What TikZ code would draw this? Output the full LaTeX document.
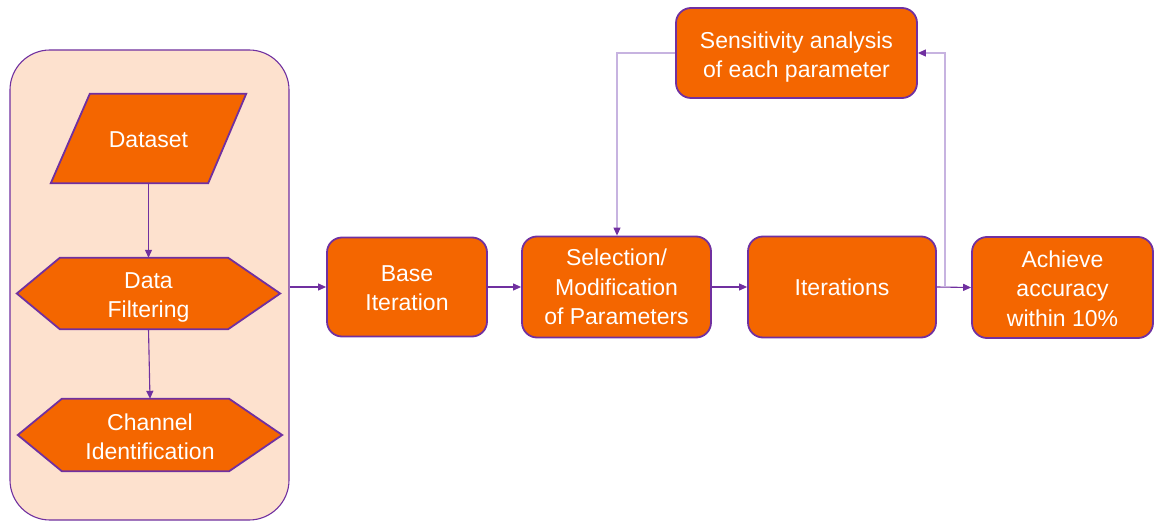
\documentclass[tikz,border=0pt]{standalone}
\usepackage{fontspec}
\setmainfont{Liberation Sans}
\usetikzlibrary{calc,arrows.meta}
\definecolor{orfill}{HTML}{F46600}
\definecolor{purp}{HTML}{7030A0}
\definecolor{lpurp}{HTML}{C7B3E0}
\definecolor{peach}{HTML}{FDE1CE}
\tikzset{
  txt/.style={inner sep=0pt, text=white, align=center, font=\fontsize{23}{29.5}\selectfont},
  rbox/.style={txt, draw=purp, line width=1.8pt, fill=orfill, rounded corners=15pt},
  shp/.style={draw=purp, line width=1.8pt, fill=orfill, line join=miter},
  conn/.style={draw=purp, line width=1.1pt, -{Triangle[length=8pt,width=7pt]}},
  fb/.style={draw=lpurp, line width=1.1pt},
  fbarrow/.style={fb, -{Triangle[length=8pt,width=7pt,color=purp]}},
}
\begin{document}
\begin{tikzpicture}[x=1pt,y=-1pt]
\useasboundingbox (0,0) rectangle (1154,521);
% container
\node[draw=purp, line width=1.1pt, fill=peach, rounded corners=40pt, minimum width=279pt, minimum height=470pt, inner sep=0pt] (cont) at (149.5,285) {};
% Dataset parallelogram
\node[txt, minimum width=195pt, minimum height=89pt] (ds) at (148.5,138.5) {};
\path[shp] ($(ds.north west)+(39,0)$) -- (ds.north east) -- ($(ds.south east)+(-38,0)$) -- (ds.south west) -- cycle;
\node[txt, yshift=-1.5pt] (dst) at (ds.center) {Dataset};
% Data Filtering hexagon
\node[txt, minimum width=263pt, minimum height=71pt] (df) at (148.5,293.5) {};
\path[shp] (df.west) -- ($(df.north west)+(43,0)$) -- ($(df.north east)+(-52,0)$) -- (df.east) -- ($(df.south east)+(-52,0)$) -- ($(df.south west)+(43,0)$) -- cycle;
\node[txt, yshift=-4pt] (dft) at (df.center) {Data\\Filtering};
% Channel Identification hexagon
\node[txt, minimum width=264pt, minimum height=72pt] (ci) at (150,435) {};
\path[shp] (ci.west) -- ($(ci.north west)+(44,0)$) -- ($(ci.north east)+(-53,0)$) -- (ci.east) -- ($(ci.south east)+(-53,0)$) -- ($(ci.south west)+(44,0)$) -- cycle;
\node[txt, yshift=-2pt] (cit) at (ci.center) {Channel\\Identification};
% main boxes
\node[rbox, minimum width=160pt, minimum height=99pt] (base) at (407,287) {};
\node[txt, yshift=-1pt] (baset) at (base.center) {Base\\Iteration};
\node[rbox, minimum width=189pt, minimum height=101pt] (sel) at (616.5,287) {Selection/\\Modification\\of Parameters};
\node[rbox, minimum width=188pt, minimum height=101pt] (iter) at (842,287) {Iterations};
\node[rbox, minimum width=181pt, minimum height=101pt] (ach) at (1062.5,287.5) {};
\node[txt, yshift=-1pt] (acht) at (ach.center) {Achieve\\accuracy\\within 10\%};
\node[rbox, minimum width=241pt, minimum height=90pt] (sens) at (796.5,53) {};
\node[txt, yshift=-4pt] (senst) at (sens.center) {Sensitivity analysis\\of each parameter};
% connectors
\draw[conn] (ds.south) -- (df.north);
\draw[conn] (df.south) -- (ci.north);
\draw[conn] (cont.east |- base.west) -- (base.west);
\draw[conn] (base.east) -- (sel.west);
\draw[conn] (sel.east) -- (iter.west);
\draw[conn] (iter.east) -- (ach.west);
\coordinate (up) at (945,287);
\coordinate (upt) at (945,53);
\coordinate (lft) at (617,53);
\draw[fbarrow] (up) -- (upt) -- (sens.east);
\draw[fbarrow] (sens.west) -- (lft) -- (lft |- sel.north);
\end{tikzpicture}
\end{document}
